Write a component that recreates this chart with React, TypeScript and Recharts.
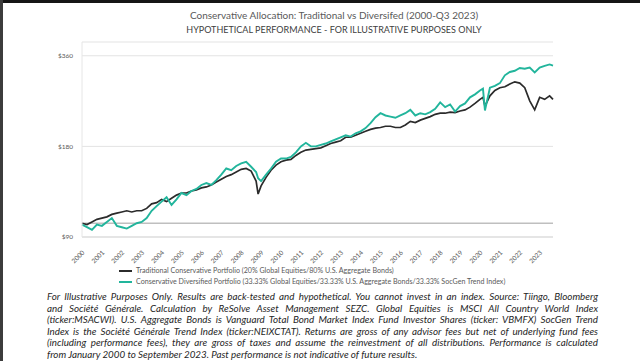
import React from 'react';
import { LineChart, Line, XAxis, YAxis, CartesianGrid, ReferenceLine } from 'recharts';

// quarter-ish sample dates (decimal years), Jan 2000 to Sep 2023
const dates = [
  2000, 2000.25, 2000.5, 2000.75,
  2001, 2001.25, 2001.5, 2001.75,
  2002, 2002.25, 2002.5, 2002.75,
  2003, 2003.25, 2003.5, 2003.75,
  2004, 2004.25, 2004.5, 2004.75,
  2005, 2005.25, 2005.5, 2005.75,
  2006, 2006.25, 2006.5, 2006.75,
  2007, 2007.25, 2007.5, 2007.75,
  2008, 2008.25, 2008.5, 2008.75, 2008.85,
  2009, 2009.25, 2009.5, 2009.75,
  2010, 2010.25, 2010.5, 2010.75,
  2011, 2011.25, 2011.5, 2011.75,
  2012, 2012.25, 2012.5, 2012.75,
  2013, 2013.25, 2013.5, 2013.75,
  2014, 2014.25, 2014.5, 2014.75,
  2015, 2015.25, 2015.5, 2015.75,
  2016, 2016.25, 2016.5, 2016.75,
  2017, 2017.25, 2017.5, 2017.75,
  2018, 2018.25, 2018.5, 2018.75,
  2019, 2019.25, 2019.5, 2019.75,
  2020, 2020.15, 2020.25, 2020.5, 2020.75,
  2021, 2021.25, 2021.5, 2021.75,
  2022, 2022.25, 2022.5, 2022.75,
  2023, 2023.25, 2023.5, 2023.67,
];

const traditional = [
  100, 99, 101, 103,
  104, 105, 107, 108,
  109, 110, 109, 110,
  110, 112, 116, 117,
  120, 118, 121, 124,
  126, 126, 128, 129,
  131, 132, 134, 137,
  140, 143, 145, 148,
  151, 152, 149, 138, 125,
  133, 142, 150, 156,
  160, 162, 163, 168,
  172, 175, 176, 177,
  178, 181, 184, 186,
  188, 193, 193, 196,
  199, 202, 205, 207,
  208, 210, 210, 208,
  208, 212, 218, 216,
  220, 223, 226, 230,
  232, 232, 234, 233,
  236, 238, 243, 250,
  258, 262, 245, 265, 276,
  282, 284, 290, 295,
  292, 282, 255, 238,
  262, 258, 265, 258,
];

const diversified = [
  99, 97, 95, 99,
  98, 101, 104, 98,
  97, 96, 98, 100,
  101, 104, 110, 114,
  118, 122, 115, 120,
  126, 124, 128, 130,
  134, 136, 134, 139,
  145, 152, 150, 155,
  158, 160, 154, 148, 141,
  138, 145, 152, 160,
  164, 164, 166, 172,
  180, 185, 180, 180,
  182, 184, 187, 190,
  193, 196, 194, 199,
  202, 207, 215, 225,
  232, 228, 226, 224,
  228, 232, 238, 228,
  232, 230, 234, 240,
  252, 243, 248, 235,
  245, 250, 262, 268,
  276, 280, 237, 282, 286,
  292, 310, 318, 321,
  328, 326, 329, 317,
  329, 333, 337, 334,
];

const years = [
  2000, 2001, 2002, 2003, 2004, 2005, 2006, 2007, 2008, 2009, 2010, 2011,
  2012, 2013, 2014, 2015, 2016, 2017, 2018, 2019, 2020, 2021, 2022, 2023,
];
const yTicks = [90, 180, 360];

const seriesNames = [
  'Traditional Conservative Portfolio (20% Global Equities/80% U.S. Aggregate Bonds)',
  'Conservative Diversified Portfolio (33.33% Global Equities/33.33% U.S. Aggregate Bonds/33.33% SocGen Trend Index)',
];
const seriesColors = ['#2b2b2b', '#22b59c'];

const footnoteLines = [
  'For Illustrative Purposes Only. Results are back-tested and hypothetical. You cannot invest in an index. Source: Tiingo, Bloomberg',
  'and Société Générale. Calculation by ReSolve Asset Management SEZC. Global Equities is MSCI All Country World Index',
  '(ticker:MSACWI). U.S. Aggregate Bonds is Vanguard Total Bond Market Index Fund Investor Shares (ticker: VBMFX) SocGen Trend',
  'Index is the Société Générale Trend Index (ticker:NEIXCTAT). Returns are gross of any advisor fees but net of underlying fund fees',
  '(including performance fees), they are gross of taxes and assume the reinvestment of all distributions. Performance is calculated',
  'from January 2000 to September 2023. Past performance is not indicative of future results.',
];

const FONT = 'Lato, "Open Sans", sans-serif';

const YearTick = ({ x, y, payload }: any) => (
  <text
    x={x + 3}
    y={y + 8}
    transform={`rotate(-45 ${x + 3} ${y + 8})`}
    textAnchor="end"
    fontSize={6.5}
    fill="#595959"
    fontFamily={FONT}
  >
    {payload.value}
  </text>
);

export default function App() {
  const chartData = dates.map((t, i) => ({
    t,
    trad: traditional[i],
    div: diversified[i],
  }));

  return (
    <div style={{ position: 'absolute', left: 0, top: 0, width: 640, height: 361, background: '#fff', overflow: 'hidden', fontFamily: FONT }}>
      <div style={{ position: 'absolute', left: 0, top: 0, width: 640, height: 3, background: '#151515' }} />
      <div style={{ position: 'absolute', left: 0, top: 0, width: 3, height: 361, background: '#3c3c3c' }} />

      <div style={{ position: 'absolute', left: 134, width: 400, top: 9, textAlign: 'center', fontSize: 10, color: '#595959' }}>
        Conservative Allocation: Traditional vs Diversifed (2000-Q3 2023)
      </div>
      <div style={{ position: 'absolute', left: 134, width: 400, top: 24, textAlign: 'center', fontSize: 9, color: '#404040' }}>
        HYPOTHETICAL PERFORMANCE - FOR ILLUSTRATIVE PURPOSES ONLY
      </div>

      <div style={{ position: 'absolute', left: 0, top: 0 }}>
        <LineChart width={640} height={280} data={chartData} margin={{ top: 42, right: 87, left: 42, bottom: 0 }}>
          <CartesianGrid vertical={false} stroke="#e3e3e3" />
          <XAxis
            dataKey="t"
            type="number"
            domain={[2000, 2023.67]}
            ticks={years}
            interval={0}
            tick={<YearTick />}
            tickLine={false}
            axisLine={{ stroke: '#d9d9d9' }}
            height={43}
          />
          <YAxis
            scale="log"
            domain={[90, 400]}
            ticks={yTicks}
            allowDataOverflow
            width={40}
            tickLine={false}
            axisLine={{ stroke: '#e6e6e6' }}
            tickMargin={3}
            tickFormatter={(v: number) => `$${v}`}
            tick={{ fontSize: 6.5, fill: '#595959', fontFamily: FONT }}
          />
          <ReferenceLine y={100} stroke="#bfbfbf" strokeWidth={1.5} />
          <Line type="linear" dataKey="trad" stroke={seriesColors[0]} strokeWidth={1.7} dot={false} isAnimationActive={false} />
          <Line type="linear" dataKey="div" stroke={seriesColors[1]} strokeWidth={1.9} dot={false} isAnimationActive={false} />
        </LineChart>
      </div>

      <div style={{ position: 'absolute', left: 119, top: 265, fontSize: 7.1, color: '#595959', lineHeight: '11px' }}>
        {seriesNames.map((name, i) => (
          <div key={name} style={{ display: 'flex', alignItems: 'center', whiteSpace: 'nowrap' }}>
            <span style={{ display: 'inline-block', width: 13, height: 2, background: seriesColors[i], marginRight: 4 }} />
            {name}
          </div>
        ))}
      </div>

      <div style={{ position: 'absolute', left: 47, top: 291, width: 551, fontSize: 9.8, fontStyle: 'italic', color: '#262626', lineHeight: '11.6px' }}>
        {footnoteLines.map((line, i) => (
          <div
            key={i}
            style={{
              textAlign: i < footnoteLines.length - 1 ? 'justify' : 'left',
              textAlignLast: i < footnoteLines.length - 1 ? 'justify' : 'left',
              whiteSpace: 'nowrap',
            }}
          >
            {line}
          </div>
        ))}
      </div>
    </div>
  );
}
